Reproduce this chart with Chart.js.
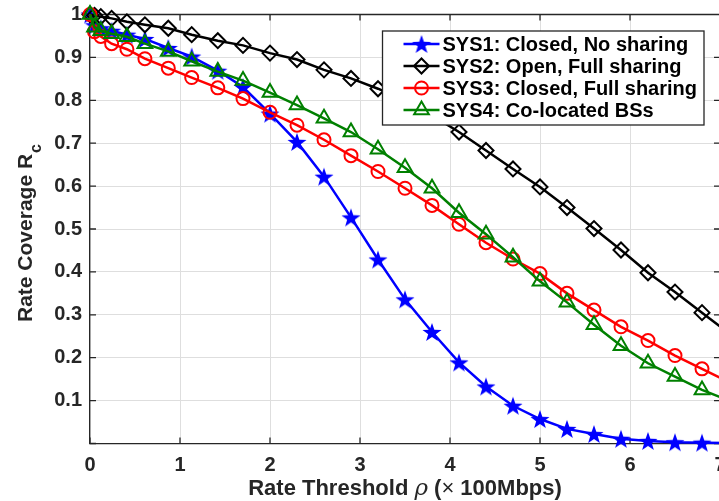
<!DOCTYPE html>
<html>
<head>
<meta charset="utf-8">
<script src="https://cdn.jsdelivr.net/npm/chart.js@4.4.1/dist/chart.umd.min.js"></script>
<style>
html,body{margin:0;padding:0;background:#fff;overflow:hidden;}
#wrap{width:780px;height:501px;position:relative;overflow:hidden;}
canvas{display:block;}
</style>
</head>
<body>
<div id="wrap"><canvas id="c"></canvas></div>
<script>
// ---------------- data ----------------
const rateThreshold = [0, 0.05, 0.12, 0.24, 0.41, 0.61, 0.87, 1.13, 1.42, 1.7, 2.0, 2.3, 2.6, 2.9, 3.2, 3.5, 3.8, 4.1, 4.4, 4.7, 5.0, 5.3, 5.6, 5.9, 6.2, 6.5, 6.8, 7.1];
const sys1Closed      = [1.0, 0.975, 0.968, 0.962, 0.953, 0.943, 0.922, 0.902, 0.869, 0.831, 0.769, 0.703, 0.622, 0.527, 0.429, 0.336, 0.260, 0.189, 0.133, 0.088, 0.057, 0.034, 0.022, 0.011, 0.006, 0.003, 0.002, 0.001];
const sys2Open        = [1.0, 0.998, 0.995, 0.991, 0.983, 0.976, 0.968, 0.953, 0.939, 0.928, 0.910, 0.895, 0.871, 0.851, 0.827, 0.800, 0.765, 0.726, 0.683, 0.640, 0.598, 0.550, 0.501, 0.451, 0.398, 0.353, 0.305, 0.257];
const sys3Shared      = [1.0, 0.960, 0.949, 0.932, 0.919, 0.897, 0.875, 0.853, 0.829, 0.804, 0.772, 0.742, 0.708, 0.671, 0.634, 0.595, 0.555, 0.511, 0.468, 0.430, 0.396, 0.350, 0.311, 0.272, 0.240, 0.205, 0.174, 0.143];
const sys4Colocated   = [1.0, 0.970, 0.962, 0.955, 0.948, 0.932, 0.914, 0.891, 0.867, 0.846, 0.818, 0.789, 0.758, 0.726, 0.686, 0.643, 0.595, 0.538, 0.488, 0.434, 0.378, 0.329, 0.277, 0.228, 0.187, 0.156, 0.125, 0.100];
const seriesLabels = ['SYS1: Closed, No sharing', 'SYS2: Open, Full sharing', 'SYS3: Closed, Full sharing', 'SYS4: Co-located BSs'];
const xTickLabels = ['0', '1', '2', '3', '4', '5', '6', '7'];
const yTickLabels = ['', '0.1', '0.2', '0.3', '0.4', '0.5', '0.6', '0.7', '0.8', '0.9', '1'];
const xTitleParts = [['Rate Threshold ', 'bold'], ['ρ', 'italic'], [' (', 'bold'], ['×', 'normal'], [' 100Mbps)', 'bold']];
const yTitleMain = 'Rate Coverage R';
const yTitleSub = 'c';

// ---------------- styling ----------------
const FONT = '"Liberation Sans", Arial, sans-serif';
const AXC = '#262626';
const TARGET = { left: 90, right: 720, top: 14.5, bottom: 443.5 };
const CANVAS_H = 501;
let canvasW = 724;
let xAxisH = CANVAS_H - TARGET.bottom;
let topPad = TARGET.top;

function makeStar(r, color) {
  const s = Math.ceil(2 * r + 2);
  const c = document.createElement('canvas');
  c.width = s; c.height = s;
  const g = c.getContext('2d');
  g.beginPath();
  for (let i = 0; i < 10; i++) {
    const rad = (i % 2) ? r * 0.40 : r;
    const a = -Math.PI / 2 + i * Math.PI / 5;
    g.lineTo(s / 2 + rad * Math.cos(a), s / 2 + 1 + rad * Math.sin(a));
  }
  g.closePath();
  g.fillStyle = color;
  g.fill();
  return c;
}
const starImg = makeStar(10, '#0000ff');

function pts(ys) { return rateThreshold.map((x, i) => ({ x: x, y: ys[i] })); }

const styles = [
  { color: '#0000ff', pointStyle: starImg, radius: 10, order: 3 },
  { color: '#000000', pointStyle: 'rectRot', radius: 7.5, order: 2 },
  { color: '#ff0000', pointStyle: 'circle', radius: 6.5, order: 1 },
  { color: '#008000', pointStyle: 'triangle', radius: 8.5, order: 0 }
];
const seriesData = [sys1Closed, sys2Open, sys3Shared, sys4Colocated];

function makeDatasets() {
  return seriesData.map((ys, i) => ({
    label: seriesLabels[i],
    data: pts(ys),
    borderColor: styles[i].color,
    backgroundColor: styles[i].color,
    borderWidth: 2.5,
    pointStyle: styles[i].pointStyle,
    pointRadius: styles[i].radius,
    pointHoverRadius: styles[i].radius,
    pointBorderColor: styles[i].color,
    pointBackgroundColor: 'rgba(0,0,0,0)',
    pointBorderWidth: 2,
    tension: 0,
    clip: false,
    order: styles[i].order
  }));
}

const frameTicks = {
  id: 'frameTicks',
  beforeDatasetsDraw(chart) {
    const { ctx, chartArea: a, scales: { x, y } } = chart;
    ctx.save();
    ctx.strokeStyle = AXC;
    ctx.lineWidth = 1.3;
    ctx.beginPath();
    ctx.moveTo(a.left, a.top); ctx.lineTo(a.right, a.top); ctx.lineTo(a.right, a.bottom);
    x.ticks.forEach(t => {
      const px = x.getPixelForValue(t.value);
      ctx.moveTo(px, a.bottom); ctx.lineTo(px, a.bottom - 6);
      ctx.moveTo(px, a.top); ctx.lineTo(px, a.top + 6);
    });
    y.ticks.forEach(t => {
      const py = y.getPixelForValue(t.value);
      ctx.moveTo(a.left, py); ctx.lineTo(a.left + 6, py);
      ctx.moveTo(a.right, py); ctx.lineTo(a.right - 6, py);
    });
    ctx.stroke();
    ctx.restore();
  }
};

const boxLegend = {
  id: 'boxLegend',
  afterDatasetsDraw(chart) {
    const { ctx, chartArea: a } = chart;
    ctx.save();
    ctx.font = 'bold 20px ' + FONT;
    const ds = chart.data.datasets;
    let maxW = 0;
    ds.forEach(d => { maxW = Math.max(maxW, ctx.measureText(d.label).width); });
    const rowH = 22;
    const sampleL = 21, sampleLen = 36, gap = 3, padR = 7;
    const boxW = sampleL + sampleLen + gap + maxW + padR;
    const boxH = ds.length * rowH + 6;
    const right = a.right - 16;
    const left = right - boxW;
    const top = a.top + 16.5;
    ctx.fillStyle = '#ffffff';
    ctx.fillRect(left, top, boxW, boxH);
    ctx.strokeStyle = AXC;
    ctx.lineWidth = 1.3;
    ctx.strokeRect(left, top, boxW, boxH);
    ds.forEach((d, i) => {
      const cy = top + 13 + i * rowH;
      const x0 = left + sampleL;
      ctx.strokeStyle = d.borderColor;
      ctx.lineWidth = d.borderWidth;
      ctx.beginPath();
      ctx.moveTo(x0, cy); ctx.lineTo(x0 + sampleLen, cy);
      ctx.stroke();
      ctx.fillStyle = 'rgba(0,0,0,0)';
      ctx.strokeStyle = d.pointBorderColor;
      ctx.lineWidth = d.pointBorderWidth;
      Chart.helpers.drawPoint(ctx, { pointStyle: d.pointStyle, radius: d.pointRadius, borderWidth: d.pointBorderWidth, rotation: 0 }, x0 + sampleLen / 2, cy);
      ctx.fillStyle = '#000000';
      ctx.textBaseline = 'middle';
      ctx.textAlign = 'left';
      ctx.fillText(d.label, x0 + sampleLen + gap, cy + 1);
    });
    ctx.restore();
  }
};

const axisTitles = {
  id: 'axisTitles',
  afterDraw(chart) {
    const { ctx, chartArea: a } = chart;
    ctx.save();
    ctx.fillStyle = AXC;
    ctx.textBaseline = 'alphabetic';
    ctx.textAlign = 'left';
    const fontFor = s => (s === 'bold' ? 'bold 22px ' + FONT : s === 'italic' ? 'italic 23px "DejaVu Serif", serif' : '22px ' + FONT);
    let total = 0;
    xTitleParts.forEach(p => { ctx.font = fontFor(p[1]); total += ctx.measureText(p[0]).width; });
    let cx = (a.left + a.right) / 2 - total / 2;
    const by = a.bottom + 51;
    xTitleParts.forEach(p => { ctx.font = fontFor(p[1]); ctx.fillText(p[0], cx, by); cx += ctx.measureText(p[0]).width; });
    ctx.translate(a.left - 58.5, (a.top + a.bottom) / 2 + 4);
    ctx.rotate(-Math.PI / 2);
    ctx.font = 'bold 21px ' + FONT;
    const w1 = ctx.measureText(yTitleMain).width;
    ctx.font = 'bold 16px ' + FONT;
    const w2 = ctx.measureText(yTitleSub).width;
    const sx = -(w1 + w2 + 1) / 2;
    ctx.font = 'bold 21px ' + FONT;
    ctx.fillText(yTitleMain, sx, 0);
    ctx.font = 'bold 16px ' + FONT;
    ctx.fillText(yTitleSub, sx + w1 + 1, 9);
    ctx.restore();
  }
};

Chart.defaults.font.family = FONT;

let chart = null;
function build() {
  const cv = document.getElementById('c');
  if (chart) chart.destroy();
  cv.width = Math.round(canvasW);
  cv.height = CANVAS_H;
  cv.style.width = Math.round(canvasW) + 'px';
  cv.style.height = CANVAS_H + 'px';
  chart = new Chart(cv, {
    type: 'line',
    data: { datasets: makeDatasets() },
    options: {
      responsive: false,
      animation: false,
      devicePixelRatio: 1,
      layout: { padding: { top: topPad, right: 0, left: 0, bottom: 0 } },
      events: [],
      plugins: { legend: { display: false }, tooltip: { enabled: false }, title: { display: false } },
      scales: {
        x: {
          type: 'linear', min: 0, max: 7,
          afterFit(scale) { scale.height = xAxisH; scale.paddingLeft = 0; scale.paddingRight = 0; },
          grid: { color: '#dedede', lineWidth: 1, drawTicks: false },
          border: { display: true, color: AXC, width: 1.3 },
          ticks: {
            stepSize: 1, autoSkip: false, maxRotation: 0, padding: 10,
            color: AXC, font: { size: 20, weight: 'bold', family: FONT },
            callback: (v, i) => xTickLabels[i]
          },
          title: { display: false }
        },
        y: {
          type: 'linear', min: 0, max: 1,
          afterFit(scale) { scale.width = TARGET.left; scale.paddingTop = 0; scale.paddingBottom = 0; },
          grid: { color: '#dedede', lineWidth: 1, drawTicks: false },
          border: { display: true, color: AXC, width: 1.3 },
          ticks: {
            stepSize: 0.1, autoSkip: false, padding: 8,
            color: AXC, font: { size: 20, weight: 'bold', family: FONT },
            callback: (v, i) => yTickLabels[i]
          },
          title: { display: false }
        }
      }
    },
    plugins: [frameTicks, boxLegend, axisTitles]
  });
}
build();
for (let k = 0; k < 3; k++) {
  const a = chart.chartArea;
  const dR = TARGET.right - a.right;
  const dB = TARGET.bottom - a.bottom;
  const dT = TARGET.top - a.top;
  if (Math.abs(dR) < 0.25 && Math.abs(dB) < 0.25 && Math.abs(dT) < 0.25) break;
  canvasW += dR;
  xAxisH -= dB;
  topPad += dT;
  build();
}
</script>
</body>
</html>
